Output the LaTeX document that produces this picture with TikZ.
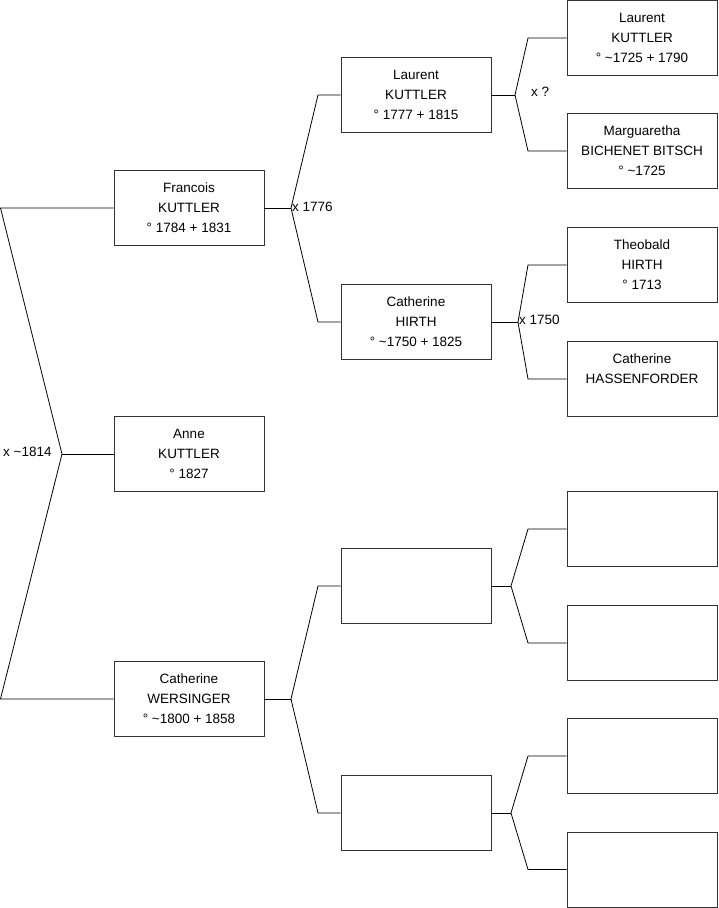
\documentclass[tikz,border=0pt]{standalone}
\usepackage{fontspec}
\setmainfont{Liberation Sans}
\usetikzlibrary{positioning}
\definecolor{boxline}{HTML}{333333}
\definecolor{ink}{HTML}{000000}

\begin{document}
\begin{tikzpicture}[x=1pt, y=-1pt,
  person/.style={draw=boxline, line width=0.9pt, minimum width=150pt, minimum height=75pt,
    inner sep=0pt, align=center, font=\fontsize{13.5}{20}\selectfont, text=ink},
  wedlock/.style={anchor=west, inner sep=1pt, font=\fontsize{13.5}{16}\selectfont, text=ink},
  link/.style={ink, line width=0.8pt}]

\useasboundingbox (0,0) rectangle (719,908);
\fill[white] (0,0) rectangle (719,908);

% Generation 1
\node[person] (anne) at (189,454) {Anne\\KUTTLER\\° 1827};

% Generation 2 (parents)
\node[person] (fran) at (189,208) {Francois\\KUTTLER\\° 1784 + 1831};
\node[person] (cathw) at (189,699) {Catherine\\WERSINGER\\° \textasciitilde1800 + 1858};

% Generation 3 (grandparents)
\node[person] (laur) at (416,95) {Laurent\\KUTTLER\\° 1777 + 1815};
\node[person] (cathh) at (416,322) {Catherine\\HIRTH\\° \textasciitilde1750 + 1825};
\node[person] (gpa) at (416,586) {};
\node[person] (gpb) at (416,813) {};

% Generation 4 (great-grandparents)
\node[person] (laurs) at (642,38) {Laurent\\KUTTLER\\° \textasciitilde1725 + 1790};
\node[person] (marg) at (642,151) {Marguaretha\\BICHENET BITSCH\\° \textasciitilde1725};
\node[person] (theo) at (642,265) {Theobald\\HIRTH\\° 1713};
\node[person] (hass) at (642,379) {Catherine\\HASSENFORDER\\\mbox{}};
\foreach \i/\y in {a/529, b/643, c/756, d/869.5}
  \node[person] (ggp\i) at (642,\y) {};

% Fork points
\coordinate (r0) at (62,454);   % root
\coordinate (r1) at (0.5,208);
\coordinate (r2) at (0.5,699);
\coordinate (f0) at (291,208);  % Francois
\coordinate (f1) at (318,95);
\coordinate (f2) at (318,322);
\coordinate (w0) at (291,699);  % Wersinger
\coordinate (w1) at (318,586);
\coordinate (w2) at (318,813);
\coordinate (l0) at (515,95);   % Laurent
\coordinate (l1) at (528,38);
\coordinate (l2) at (528,151);
\coordinate (h0) at (518,322);  % Hirth
\coordinate (h1) at (528,265);
\coordinate (h2) at (528,379);
\coordinate (a0) at (511,586);
\coordinate (a1) at (528,529);
\coordinate (a2) at (528,643);
\coordinate (b0) at (511,813);
\coordinate (b1) at (528,756);
\coordinate (b2) at (528,869.5);

% Connectors
\draw[link] (fran.west) -- (r1) -- (r0) -- (r2) -- (cathw.west);
\draw[link] (anne.west) -- (r0);
\draw[link] (laur.west) -- (f1) -- (f0) -- (f2) -- (cathh.west);
\draw[link] (fran.east) -- (f0);
\draw[link] (gpa.west) -- (w1) -- (w0) -- (w2) -- (gpb.west);
\draw[link] (cathw.east) -- (w0);
\draw[link] (laurs.west) -- (l1) -- (l0) -- (l2) -- (marg.west);
\draw[link] (laur.east) -- (l0);
\draw[link] (theo.west) -- (h1) -- (h0) -- (h2) -- (hass.west);
\draw[link] (cathh.east) -- (h0);
\draw[link] (ggpa.west) -- (a1) -- (a0) -- (a2) -- (ggpb.west);
\draw[link] (gpa.east) -- (a0);
\draw[link] (ggpc.west) -- (b1) -- (b0) -- (b2) -- (ggpd.west);
\draw[link] (gpb.east) -- (b0);

% Marriage labels
\node[wedlock] (m1814) at (2,452) {x \textasciitilde1814};
\node[wedlock] (m1776) at (291,207) {x 1776};
\node[wedlock] (mq) at (530,92) {x ?};
\node[wedlock] (m1750) at (518,320) {x 1750};

\end{tikzpicture}
\end{document}
